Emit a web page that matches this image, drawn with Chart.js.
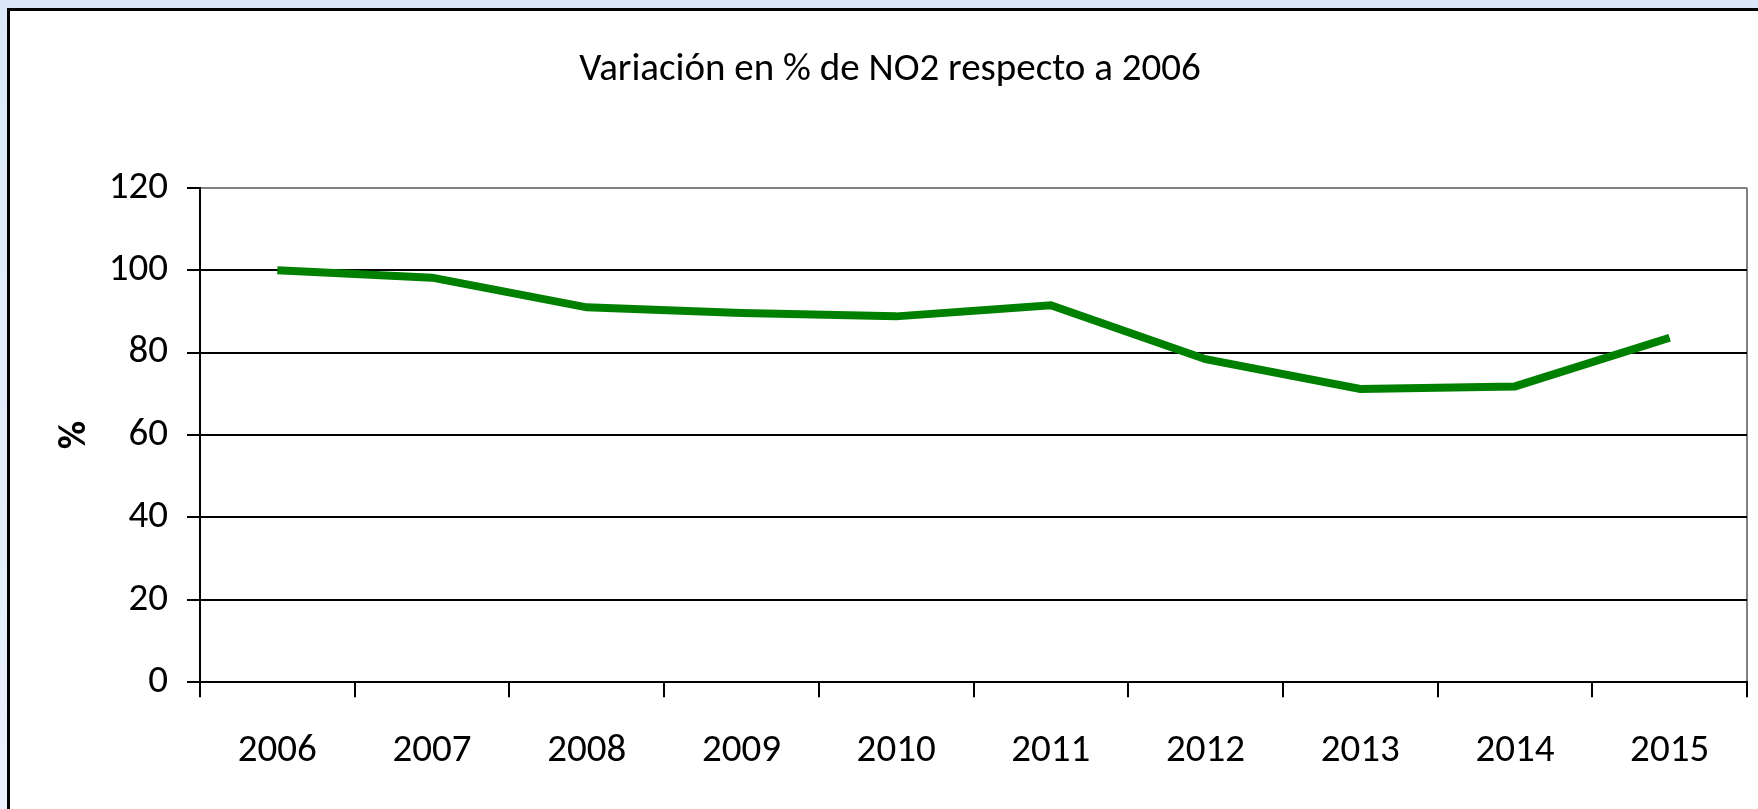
<!DOCTYPE html>
<html lang="es">
<head>
    <meta charset="UTF-8">
    <title>Variación en % de NO2 respecto a 2006</title>
    <script src="https://cdn.jsdelivr.net/npm/chart.js"></script>
    <style>
        html, body {
            margin: 0;
            padding: 0;
            width: 1758px;
            height: 809px;
            overflow: hidden;
            background: linear-gradient(#dbe7f8, #e9f0fb);
        }
        #frame {
            position: absolute;
            left: 7px;
            top: 8px;
            width: 1800px;
            height: 900px;
            background: #fff;
            border-left: 3px solid #000;
            border-top: 3px solid #000;
        }
        #chart {
            position: absolute;
            left: 0;
            top: 0;
        }
    </style>
</head>
<body>
    <div id="frame"></div>
    <canvas id="chart" width="1758" height="809"></canvas>

    <script>
        // datos
        const YEARS = ['2006', '2007', '2008', '2009', '2010', '2011', '2012', '2013', '2014', '2015']
        const NO2_PCT = [100, 98.2, 91.0, 89.6, 88.8, 91.5, 78.4, 71.2, 71.8, 83.6]
        const Y_MIN = 0
        const Y_MAX = 120
        const Y_STEP = 20

        const FONT = 'Calibri, Carlito, "Open Sans", sans-serif'
        const FONT_SIZE = 39

        const ctx = document.getElementById('chart').getContext('2d')

        new Chart(ctx, {
            type: 'line',
            data: {
                labels: YEARS,
                datasets: [{
                    label: 'NO2',
                    data: NO2_PCT,
                    borderColor: '#008000',
                    backgroundColor: '#008000',
                    borderWidth: 8,
                    pointRadius: 0,
                    pointHoverRadius: 0,
                    tension: 0,
                    fill: false
                }]
            },
            options: {
                responsive: false,
                animation: false,
                events: [],
                layout: {
                    padding: { left: 33, right: 11, top: 0, bottom: 0 }
                },
                plugins: {
                    legend: { display: false },
                    tooltip: { enabled: false },
                    title: {
                        display: true,
                        text: 'Variación en % de NO2 respecto a 2006',
                        color: '#000',
                        font: { family: FONT, size: FONT_SIZE, weight: 'normal', lineHeight: 1.2 },
                        padding: { top: 47, bottom: 94 }
                    }
                },
                scales: {
                    x: {
                        offset: true,
                        grid: {
                            offset: true,
                            drawOnChartArea: true,
                            // solo la ultima linea (borde derecho del area) es visible
                            color: c => c.type === 'tick' ? 'rgba(0,0,0,0)' : '#808080',
                            lineWidth: 2,
                            tickColor: '#000',
                            tickWidth: 2,
                            tickLength: 15
                        },
                        border: { display: true, color: '#000', width: 2 },
                        ticks: {
                            color: '#000',
                            font: { family: FONT, size: FONT_SIZE, lineHeight: 1.2 },
                            padding: 31,
                            maxRotation: 0,
                            autoSkip: false
                        },
                        afterFit: scale => { scale.height = 126.7 }
                    },
                    y: {
                        min: Y_MIN,
                        max: Y_MAX,
                        grid: {
                            color: c => (c.tick && c.tick.value === Y_MAX) ? '#808080' : '#000',
                            lineWidth: 2,
                            tickColor: '#000',
                            tickWidth: 2,
                            tickLength: 13
                        },
                        border: { display: true, color: '#000', width: 2 },
                        ticks: {
                            stepSize: Y_STEP,
                            color: '#000',
                            font: { family: FONT, size: FONT_SIZE, lineHeight: 1.2 },
                            padding: 19
                        },
                        title: {
                            display: true,
                            text: '%',
                            color: '#000',
                            font: { family: FONT, size: FONT_SIZE, weight: 'bold', lineHeight: 1.2 },
                            padding: { top: 19, bottom: 0 }
                        },
                        afterFit: scale => { scale.width = 167 }
                    }
                }
            }
        })
    </script>
</body>
</html>
